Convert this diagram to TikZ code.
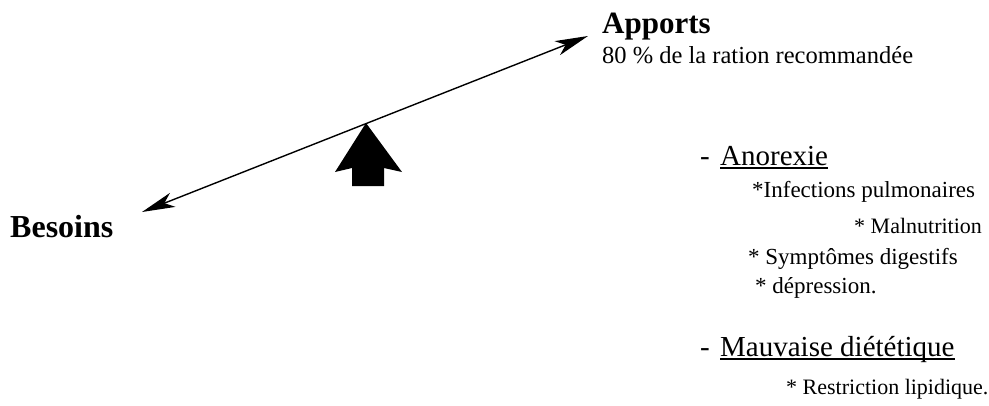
\documentclass[tikz,border=0pt]{standalone}
\usepackage{fontspec}
\setmainfont{Liberation Serif}
\usetikzlibrary{arrows.meta}
\begin{document}
\begin{tikzpicture}[x=1pt,y=-1pt,
  bigbold/.style={anchor=base west, inner sep=0pt, font=\fontsize{31}{31}\selectfont\bfseries},
  subline/.style={anchor=base west, inner sep=0pt, font=\fontsize{24.5}{24.5}\selectfont},
  cause/.style={anchor=base west, inner sep=0pt, font=\fontsize{29}{29}\selectfont},
  detail/.style={anchor=base west, inner sep=0pt, font=\fontsize{23}{23}\selectfont},
  beam/.style={line width=1.4pt, {Stealth[length=33pt,width=15pt,inset=9pt]}-{Stealth[length=33pt,width=15pt,inset=9pt]}},
  uline/.style={line width=1.2pt}
]
\useasboundingbox (0,0) rectangle (989,405);

% balance beam and its pivot
\coordinate (beamL) at (142,212);
\coordinate (beamR) at (588,36);
\draw[beam] (beamL) -- (beamR);
\fill (366,123) -- (402,172) -- (384,168) -- (384,186) -- (352,186)
      -- (352,168) -- (335,172) -- cycle;

% ends of the beam
\node[bigbold] (apports) at (602,33) {Apports};
\node[subline] (ration) at (602,63) {80 \% de la ration recommandée};
\node[bigbold] (besoins) at (10,237) {\fontsize{32}{32}\selectfont Besoins};

% causes
\node[cause] (dashA) at (700,165) {-};
\node[cause] (anorexie) at (720,165) {Anorexie};
\draw[uline] ([yshift=-3pt]anorexie.base west) -- ([yshift=-3pt]anorexie.base east);
\node[detail] (infect) at (752,197) {*Infections pulmonaires};
\node[detail, font=\fontsize{22}{22}\selectfont] (malnut) at (854,233) {* Malnutrition};
\node[detail] (sympt) at (748,264) {* Symptômes digestifs};
\node[detail] (depr) at (755,293) {* dépression.};

\node[cause] (dashB) at (700,356) {-};
\node[cause] (mauvaise) at (720,356) {Mauvaise diététique};
\draw[uline] ([yshift=-3pt]mauvaise.base west) -- ([yshift=-3pt]mauvaise.base east);
\node[detail, font=\fontsize{22}{22}\selectfont] (restr) at (786,394) {* Restriction lipidique.};
\end{tikzpicture}
\end{document}
